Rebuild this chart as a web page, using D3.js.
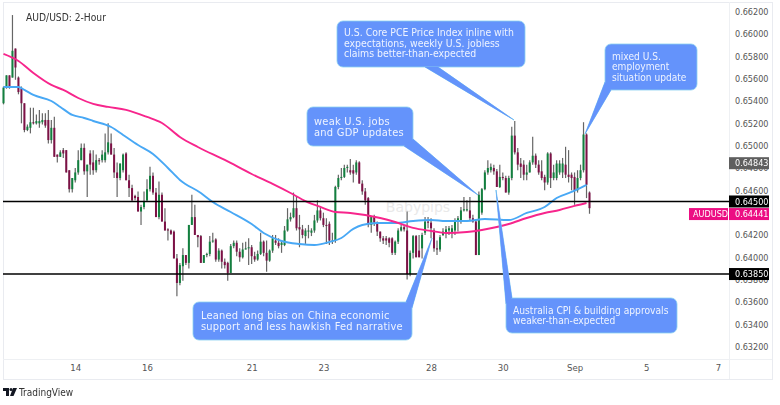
<!DOCTYPE html>
<html>
<head>
<meta charset="utf-8">
<script src="https://cdn.jsdelivr.net/npm/d3@7"></script>
<style>
body { margin: 0; background: #fff; }
svg { display: block; filter: blur(0.35px); }
text { font-family: "DejaVu Sans Condensed", "DejaVu Sans", sans-serif; }
</style>
</head>
<body>
<div id="chart"></div>
<script>
// candles, in pips (price x 10000), one entry per 2-hour bar
var opens = [6538,6552,6563,6561,6587,6561,6551,6538,6514,6516,6521,6520,6520,6521,6523,6523,6505,6516,6492,6490,
6496,6496,6478,6461,6469,6476,6487,6498,6477,6493,6485,6478,6487,6487,6487,6494,6502,6492,6476,6471,
6478,6493,6469,6462,6455,6454,6441,6445,6451,6461,6473,6458,6436,6456,6432,6425,6424,6423,6399,6377,
6392,6402,6395,6429,6436,6420,6419,6395,6402,6403,6415,6416,6398,6406,6396,6395,6386,6410,6413,6405,
6400,6407,6408,6409,6401,6398,6403,6414,6404,6397,6406,6415,6413,6411,6411,6424,6434,6436,6444,6427,
6425,6419,6423,6422,6424,6433,6442,6435,6429,6430,6415,6415,6463,6471,6472,6480,6478,6478,6476,6485,
6466,6459,6453,6429,6436,6431,6423,6417,6417,6417,6417,6404,6414,6424,6427,6424,6385,6404,6419,6406,
6408,6422,6432,6431,6424,6408,6407,6420,6422,6424,6422,6424,6432,6432,6442,6442,6442,6435,6432,6402,
6440,6461,6476,6478,6480,6477,6463,6472,6471,6458,6471,6509,6494,6484,6483,6474,6476,6485,6491,6483,
6477,6472,6467,6493,6471,6471,6476,6476,6483,6474,6474,6472,6460,6471,6478,6510,6458];
var closes = [6552,6563,6552,6585,6570,6548,6538,6514,6517,6521,6520,6522,6522,6523,6518,6505,6516,6490,6490,6494,
6493,6476,6461,6471,6476,6487,6498,6477,6483,6483,6478,6487,6486,6492,6494,6503,6492,6476,6471,6484,
6492,6469,6462,6451,6453,6441,6445,6450,6461,6473,6458,6436,6456,6432,6424,6424,6421,6399,6377,6393,
6402,6395,6429,6436,6420,6418,6395,6402,6403,6414,6415,6398,6406,6396,6393,6386,6410,6413,6405,6400,
6407,6408,6409,6401,6398,6403,6414,6404,6397,6406,6417,6413,6410,6413,6424,6434,6436,6444,6426,6425,
6420,6424,6424,6424,6433,6442,6435,6429,6428,6415,6415,6463,6471,6472,6480,6481,6476,6475,6485,6466,
6459,6451,6429,6436,6431,6423,6417,6415,6415,6413,6404,6414,6424,6427,6425,6385,6404,6419,6400,6400,
6420,6432,6431,6426,6408,6407,6418,6423,6425,6426,6426,6433,6435,6442,6443,6443,6435,6432,6402,6456,
6461,6476,6480,6481,6477,6463,6472,6471,6458,6471,6509,6494,6483,6481,6474,6476,6485,6491,6483,6476,
6471,6467,6493,6471,6476,6484,6484,6484,6474,6472,6471,6460,6471,6478,6510,6465,6444];
var highs = [6553,6563,6563,6617,6587,6562,6553,6538,6519,6534,6534,6528,6532,6529,6529,6532,6523,6526,6492,6496,
6498,6496,6478,6471,6480,6496,6502,6502,6483,6496,6496,6492,6489,6496,6511,6520,6511,6498,6485,6484,
6493,6494,6474,6465,6456,6459,6447,6459,6470,6481,6476,6462,6468,6458,6444,6426,6425,6424,6403,6395,
6408,6402,6429,6456,6447,6420,6420,6402,6404,6419,6422,6417,6408,6407,6399,6396,6412,6415,6415,6408,
6413,6414,6417,6411,6405,6406,6422,6415,6415,6407,6420,6420,6417,6415,6428,6444,6440,6458,6454,6438,
6429,6426,6429,6426,6438,6451,6445,6440,6435,6432,6422,6464,6474,6480,6483,6483,6488,6483,6487,6486,
6469,6462,6454,6437,6438,6432,6423,6419,6419,6418,6418,6415,6426,6429,6429,6441,6406,6420,6420,6420,
6422,6436,6436,6435,6426,6415,6420,6426,6428,6428,6429,6435,6437,6445,6454,6451,6454,6438,6433,6459,
6462,6478,6487,6484,6483,6479,6483,6476,6473,6473,6517,6522,6498,6489,6487,6483,6487,6508,6493,6487,
6487,6474,6494,6494,6483,6487,6487,6489,6499,6496,6476,6476,6478,6483,6521,6511,6459];
var lows = [6537,6551,6551,6561,6559,6546,6520,6512,6513,6511,6519,6519,6516,6519,6516,6502,6502,6490,6485,6490,
6489,6476,6458,6458,6467,6474,6487,6474,6454,6474,6474,6476,6483,6485,6485,6492,6492,6471,6454,6469,
6476,6469,6454,6450,6451,6441,6429,6443,6450,6459,6456,6436,6434,6432,6424,6415,6420,6399,6365,6375,
6379,6393,6390,6429,6420,6409,6395,6395,6400,6401,6413,6396,6396,6390,6390,6379,6386,6408,6401,6396,
6399,6407,6393,6394,6396,6397,6402,6401,6387,6396,6404,6411,6408,6404,6410,6423,6432,6435,6424,6409,
6417,6412,6417,6419,6422,6431,6433,6427,6412,6411,6412,6413,6461,6469,6471,6476,6474,6467,6474,6466,
6456,6447,6427,6422,6428,6419,6414,6412,6411,6409,6402,6402,6412,6423,6423,6380,6383,6399,6400,6400,
6399,6420,6426,6417,6405,6402,6405,6419,6417,6420,6417,6420,6423,6430,6441,6441,6433,6431,6402,6402,
6438,6460,6474,6476,6474,6463,6462,6469,6458,6456,6469,6492,6478,6471,6469,6469,6476,6483,6480,6474,
6469,6460,6465,6462,6469,6469,6474,6471,6471,6467,6460,6447,6458,6469,6476,6453,6439];

// moving averages, bar index and value read at each index
var blueBars = [0,5,7,10,16,19,23,27,30,36,40,45,50,55,59,66,70,76,83,87,93,99,104,109,113,117,120,125,131,137,143,148,155,161,169,175,181,185,190,193,195];
var blueLine = [6552.6,6552.6,6549.9,6545.4,6540,6534.7,6527.5,6524.8,6522.1,6516.7,6509.6,6500.6,6492.6,6480,6469.3,6457.6,6449.5,6440.6,6429.8,6421.8,6414.6,6411.9,6411,6413.7,6417.3,6425.4,6428.9,6430.7,6430.7,6432.5,6433.4,6432.5,6432.5,6434.3,6433.4,6439.7,6445.1,6453.1,6458.5,6462.1,6464.8];
var pinkBars = [0,5,10,16,20,25,30,35,41,48,53,59,65,74,83,90,96,101,106,111,116,121,126,131,137,143,148,155,160,165,169,175,181,186,191,195];
var pinkLine = [6582.2,6575.9,6565.1,6554.4,6549.9,6542.7,6537.4,6534.7,6532,6525.7,6520.3,6507.8,6498.8,6487.2,6474.6,6465.7,6457.6,6450.4,6445.1,6440.6,6439.7,6437.9,6435.2,6431.6,6426.3,6423.6,6421.8,6422.7,6424.5,6427.1,6429.8,6435.2,6439.7,6442.4,6446,6448.6];

// axis labels, 0.644 sits fully behind the pink tag so it is left out
var priceTicks = [0.662,0.66,0.658,0.656,0.654,0.652,0.65,0.648,0.646,0.642,0.64,0.638,0.636,0.634,0.632];
var dateBars = [24,48,83,107,143,167,191,215,239];
var dateLabels = ["14","16","21","23","28","30","Sep","5","7"];

// horizontal levels and tags on the price axis
var levels = [0.645,0.6385];
var tagPrices = [0.64843,0.645,0.64441,0.6385];
var tagColors = ["#5f5f5f","#000000","#ec0e83","#000000"];
// pink tag is pushed down below the black one, same as the platform does
var tagShift = [0,0,6,0];

// text callouts
var notes = [
    {lines:["U.S. Core PCE Price Index inline with","expectations, weekly U.S. jobless","claims better-than-expected"], box:[337,21,525,67], tail:[[425,67],[514,120],[438,67]], tx:344, ty:36, size:10.4, lh:10.5, sp:0},
    {lines:["weak U.S. jobs","and GDP updates"], box:[307,107,413,146], tail:[[413,139],[478,195],[404,146]], tx:314, ty:124.5, size:11, lh:11.5, sp:0.25},
    {lines:["mixed U.S.","employment","situation update"], box:[605,44,697,90], tail:[[605,82],[585,134],[611,90]], tx:612, ty:59.5, size:10.1, lh:10.5, sp:0},
    {lines:["Australia CPI & building approvals","weaker-than-expected"], box:[506,298,677,333], tail:[[506,304],[496,190],[512,298]], tx:513, ty:313.5, size:10.2, lh:10.5, sp:0},
    {lines:["Leaned long bias on China economic","support and less hawkish Fed narrative"], box:[193,302,412,340], tail:[[406,302],[432,238],[412,308]], tx:201, ty:318.5, size:11, lh:11.5, sp:0.2}
];

var width = 780, height = 405;
var svg = d3.select("#chart").append("svg").attr("width", width).attr("height", height);

var x = d3.scaleLinear().domain([0, 196]).range([3.5, 589.5]);
var y = d3.scaleLinear().domain([0.632, 0.662]).range([346.6, 11.7]);

var frameL = 3, frameR = 772, frameT = 2, frameB = 379, axisX = 729, axisY = 359;

// chart frame
svg.append("rect").attr("x", frameL + 0.5).attr("y", frameT + 0.5).attr("width", frameR - frameL).attr("height", frameB - frameT)
    .attr("fill", "#fff").attr("stroke", "#e9ebf0");
svg.append("line").attr("x1", axisX + 0.5).attr("x2", axisX + 0.5).attr("y1", frameT).attr("y2", frameB).attr("stroke", "#eef0f3");
svg.append("line").attr("x1", frameL).attr("x2", frameR).attr("y1", axisY + 0.5).attr("y2", axisY + 0.5).attr("stroke", "#eef0f3");

// watermark
svg.append("text").attr("x", 418).attr("y", 212).attr("text-anchor", "middle")
    .style("font-size", "14px").style("font-family", "'DejaVu Sans'").attr("fill", "#e9e9e9").text("Babypips");

// moving averages
var maLine = d3.line().curve(d3.curveMonotoneX);
function drawMa(bars, values, color) {
    var pts = bars.map((b, i) => [x(b), y(values[i] / 10000)]);
    svg.append("path").attr("d", maLine(pts)).attr("fill", "none").attr("stroke", color).attr("stroke-width", 1.9);
}

// candles
var bars = opens.map((o, i) => ({i: i, o: o / 10000, c: closes[i] / 10000, h: highs[i] / 10000, l: lows[i] / 10000}));
var candle = svg.append("g").selectAll("g").data(bars).enter().append("g");
candle.append("line")
    .attr("x1", d => x(d.i)).attr("x2", d => x(d.i))
    .attr("y1", d => y(d.h)).attr("y2", d => y(d.l))
    .attr("stroke", "#666").attr("stroke-width", 1.2);
candle.append("rect")
    .attr("x", d => x(d.i) - 1).attr("width", 2)
    .attr("y", d => y(Math.max(d.o, d.c)))
    .attr("height", d => Math.max(1, Math.abs(y(d.o) - y(d.c))))
    .attr("fill", d => d.c >= d.o ? "#12803f" : "#7d1146");

drawMa(blueBars, blueLine, "#48a8f5");
drawMa(pinkBars, pinkLine, "#f7258c");

// level lines
svg.selectAll(".level").data(levels).enter().append("line").attr("class", "level")
    .attr("x1", frameL).attr("x2", axisX)
    .attr("y1", d => y(d)).attr("y2", d => y(d))
    .attr("stroke", "#000").attr("stroke-width", 1.5);

// price axis
var yAxis = d3.axisRight(y).tickValues(priceTicks).tickSize(0).tickPadding(6).tickFormat(d3.format(".5f"));
var gy = svg.append("g").attr("transform", "translate(" + axisX + ",0)").call(yAxis);
gy.select(".domain").remove();
gy.selectAll("text").style("font-size", "9px").attr("fill", "#555");

// date axis
var xAxis = d3.axisBottom(x).tickValues(dateBars).tickSize(0).tickPadding(5).tickFormat((d, i) => dateLabels[i]);
var gx = svg.append("g").attr("transform", "translate(0," + axisY + ")").call(xAxis);
gx.select(".domain").remove();
gx.selectAll("text").style("font-size", "9.5px").attr("fill", "#555");

// price tags
tagPrices.forEach(function(p, i) {
    var py = y(p) + tagShift[i];
    svg.append("rect").attr("x", axisX).attr("y", py - 6).attr("width", 40).attr("height", 12).attr("fill", tagColors[i]);
    svg.append("text").attr("x", axisX + 6).attr("y", py + 3.2).attr("fill", "#fff").style("font-size", "9px").text(d3.format(".5f")(p));
});
var pinkY = y(0.64441) + 6;
svg.append("rect").attr("x", 689).attr("y", pinkY - 6).attr("width", 39).attr("height", 12).attr("fill", "#ec0e83");
svg.append("text").attr("x", 693).attr("y", pinkY + 3.2).attr("fill", "#fff").style("font-size", "9px").text("AUDUSD");

// callouts
notes.forEach(function(n) {
    var g = svg.append("g");
    var b = n.box;
    g.append("path").attr("d", d3.line()(n.tail) + "Z").attr("fill", "#6493fb").attr("stroke", "#6fc0ef").attr("stroke-width", 0.8);
    g.append("rect").attr("x", b[0]).attr("y", b[1]).attr("width", b[2] - b[0]).attr("height", b[3] - b[1]).attr("rx", 6)
        .attr("fill", "#6493fb").attr("stroke", "#8ad0f0").attr("stroke-width", 0.8);
    // cover the seam where tail meets box
    g.append("path").attr("d", d3.line()(n.tail)).attr("fill", "#6493fb");
    n.lines.forEach(function(t, i) {
        g.append("text").attr("x", n.tx).attr("y", n.ty + i * n.lh).attr("fill", "#eef3ff")
            .style("font-size", n.size + "px").style("letter-spacing", n.sp + "px").text(t);
    });
});

// title
svg.append("text").attr("x", 26).attr("y", 21).attr("fill", "#333").style("font-size", "10.2px").text("AUD/USD: 2-Hour");

// TradingView mark
var logo = svg.append("g").attr("fill", "#131722");
logo.append("path").attr("d", "M3 388H9V396H6V391H3Z");
logo.append("circle").attr("cx", 11).attr("cy", 389.5).attr("r", 1.5);
logo.append("path").attr("d", "M13 388H17L13.5 396H10Z");
svg.append("text").attr("x", 19).attr("y", 396).attr("fill", "#333").style("font-size", "10px").text("TradingView");
</script>
</body>
</html>
